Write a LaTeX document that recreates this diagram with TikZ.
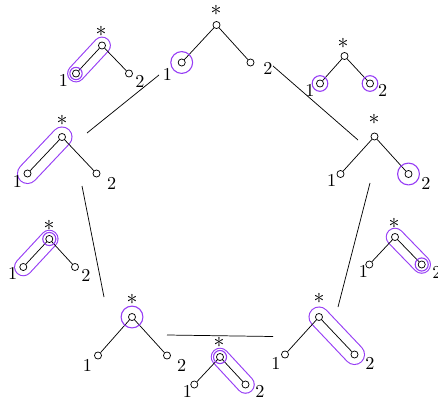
\documentclass[tikz,border=0pt]{standalone}
\usetikzlibrary{backgrounds}
\definecolor{hlc}{RGB}{150,60,245}
\begin{document}
\begin{tikzpicture}[x=0.55pt, y=-0.55pt,
  v/.style={circle, draw, fill=white, inner sep=0pt, minimum size=3.9pt},
  ring/.style={draw=hlc, line width=0.6pt},
  band/.style={draw=hlc, line width=0.6pt, double=white, line cap=round, double distance=#1},
  lab/.style={inner sep=0pt},
  star/.style={inner sep=0pt, font=\large}]
\useasboundingbox (0,0) rectangle (438,404);
\node[v] (P_0_r) at (216.5,25) {};
\node[v] (P_0_1) at (181.7,62.5) {};
\node[v] (P_0_2) at (250.5,62.5) {};
\node[star] (S_0) at (216,10) {$*$};
\node[lab] (L_0_1) at (167.3,74) {1};
\node[lab] (L_0_2) at (268,68) {2};
\draw (P_0_r) -- (P_0_1);
\draw (P_0_r) -- (P_0_2);
\draw[ring] (P_0_1) circle (6pt);
\node[v] (P_1_r) at (102,45.5) {};
\node[v] (P_1_1) at (76,73.5) {};
\node[v] (P_1_2) at (129,73.5) {};
\node[star] (S_1) at (101,31) {$*$};
\node[lab] (L_1_1) at (63.3,80) {1};
\node[lab] (L_1_2) at (140,81.7) {2};
\draw (P_1_r) -- (P_1_1);
\draw (P_1_r) -- (P_1_2);
\draw[ring] (P_1_1) circle (3.4pt);
\node[v] (P_2_r) at (62,137) {};
\node[v] (P_2_1) at (27.5,173.5) {};
\node[v] (P_2_2) at (96.5,173.5) {};
\node[star] (S_2) at (62,120) {$*$};
\node[lab] (L_2_1) at (17.3,181.7) {1};
\node[lab] (L_2_2) at (111.7,183.3) {2};
\draw (P_2_r) -- (P_2_1);
\draw (P_2_r) -- (P_2_2);
\node[v] (P_3_r) at (49.3,239) {};
\node[v] (P_3_1) at (23.3,267) {};
\node[v] (P_3_2) at (75,267) {};
\node[star] (S_3) at (49,225) {$*$};
\node[lab] (L_3_1) at (12.7,273.3) {1};
\node[lab] (L_3_2) at (86,275) {2};
\draw (P_3_r) -- (P_3_1);
\draw (P_3_r) -- (P_3_2);
\draw[ring] (P_3_r) circle (3.6pt);
\node[v] (P_4_r) at (132,317) {};
\node[v] (P_4_1) at (98,355.5) {};
\node[v] (P_4_2) at (167,355.5) {};
\node[star] (S_4) at (132,299) {$*$};
\node[lab] (L_4_1) at (87.3,365) {1};
\node[lab] (L_4_2) at (181.7,365) {2};
\draw (P_4_r) -- (P_4_1);
\draw (P_4_r) -- (P_4_2);
\draw[ring] (P_4_r) circle (6pt);
\node[v] (P_5_r) at (220,357) {};
\node[v] (P_5_1) at (194.3,384.5) {};
\node[v] (P_5_2) at (245.5,384.5) {};
\node[star] (S_5) at (219,342) {$*$};
\node[lab] (L_5_1) at (187.3,391.7) {1};
\node[lab] (L_5_2) at (260,391.7) {2};
\draw (P_5_r) -- (P_5_1);
\draw (P_5_r) -- (P_5_2);
\draw[ring] (P_5_r) circle (3.6pt);
\node[v] (P_6_r) at (319,317) {};
\node[v] (P_6_1) at (285,354.5) {};
\node[v] (P_6_2) at (354.5,354.5) {};
\node[star] (S_6) at (319,298.5) {$*$};
\node[lab] (L_6_1) at (276,363) {1};
\node[lab] (L_6_2) at (370,363) {2};
\draw (P_6_r) -- (P_6_1);
\draw (P_6_r) -- (P_6_2);
\node[v] (P_7_r) at (395,237) {};
\node[v] (P_7_1) at (369.3,264.5) {};
\node[v] (P_7_2) at (421.7,264.5) {};
\node[star] (S_7) at (394,223) {$*$};
\node[lab] (L_7_1) at (363.3,271.7) {1};
\node[lab] (L_7_2) at (437,272) {2};
\draw (P_7_r) -- (P_7_1);
\draw (P_7_r) -- (P_7_2);
\draw[ring] (P_7_2) circle (3.6pt);
\node[v] (P_8_r) at (374.5,136.5) {};
\node[v] (P_8_1) at (340.5,174) {};
\node[v] (P_8_2) at (408.5,174) {};
\node[star] (S_8) at (374,119) {$*$};
\node[lab] (L_8_1) at (331.7,180) {1};
\node[lab] (L_8_2) at (426,183) {2};
\draw (P_8_r) -- (P_8_1);
\draw (P_8_r) -- (P_8_2);
\draw[ring] (P_8_2) circle (6pt);
\node[v] (P_9_r) at (344.5,56) {};
\node[v] (P_9_1) at (320,83.5) {};
\node[v] (P_9_2) at (370,83.5) {};
\node[star] (S_9) at (343,43) {$*$};
\node[lab] (L_9_1) at (310,90) {1};
\node[lab] (L_9_2) at (382.7,90) {2};
\draw (P_9_r) -- (P_9_1);
\draw (P_9_r) -- (P_9_2);
\draw[ring] (P_9_1) circle (4.3pt);
\draw[ring] (P_9_2) circle (4.3pt);
\begin{scope}[on background layer]
\draw[band=8.6pt] (P_1_r.center) -- (P_1_1.center);
\draw[band=10.4pt] (P_2_r.center) -- (P_2_1.center);
\draw[band=9pt] (P_3_r.center) -- (P_3_1.center);
\draw[band=9pt] (P_5_r.center) -- (P_5_2.center);
\draw[band=10.4pt] (P_6_r.center) -- (P_6_2.center);
\draw[band=9pt] (P_7_r.center) -- (P_7_2.center);
\end{scope}
\coordinate (E_0_a) at (159,75);
\coordinate (E_0_b) at (87,133);
\coordinate (E_1_a) at (82,186);
\coordinate (E_1_b) at (104,297);
\coordinate (E_2_a) at (167,335);
\coordinate (E_2_b) at (273,336.5);
\coordinate (E_3_a) at (338,307);
\coordinate (E_3_b) at (370,183);
\coordinate (E_4_a) at (358,140);
\coordinate (E_4_b) at (273,66);
\draw (E_0_a) -- (E_0_b);
\draw (E_1_a) -- (E_1_b);
\draw (E_2_a) -- (E_2_b);
\draw (E_3_a) -- (E_3_b);
\draw (E_4_a) -- (E_4_b);
\end{tikzpicture}
\end{document}
